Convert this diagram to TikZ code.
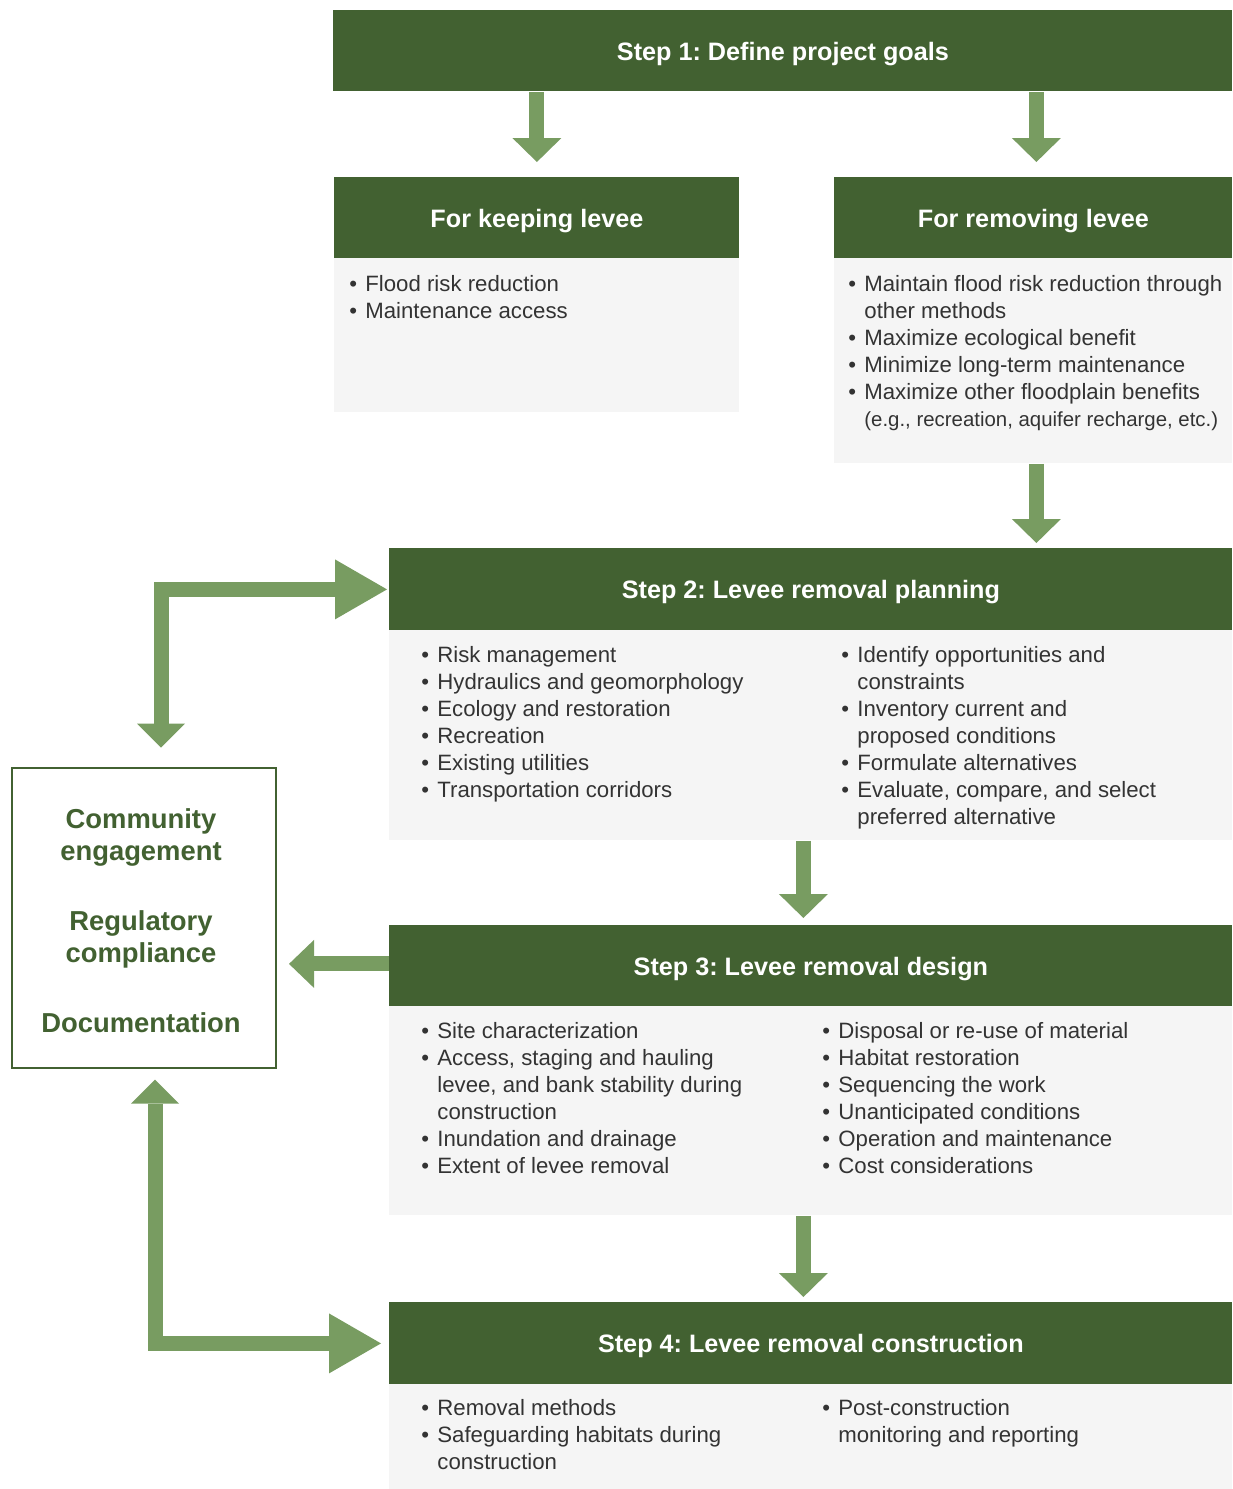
\documentclass[tikz,border=0pt]{standalone}
\usepackage{fontspec}
\setmainfont{Liberation Sans}
\usetikzlibrary{arrows.meta,calc}
\frenchspacing

\definecolor{hdrgreen}{HTML}{426131}
\definecolor{arrgreen}{HTML}{789C61}
\definecolor{bodygray}{HTML}{F5F5F5}
\definecolor{txtgray}{HTML}{333333}

% bulleted list: first column holds the bullet, second the text
\newcommand\blist[1]{{\fontsize{11.1}{13.5}\selectfont
  \begin{tabular}[t]{@{}p{8pt}@{}l@{}}#1\end{tabular}}}
\newcommand\bul{\textbullet&}

\begin{document}
\begin{tikzpicture}[x=0.5pt,y=-0.5pt,
  hdr/.style={fill=hdrgreen,text=white,font=\fontsize{12.6}{15}\selectfont\bfseries,
    inner sep=0pt,text depth=0pt,minimum height=40.5pt,anchor=north west},
  panel/.style={fill=bodygray,inner sep=0pt,anchor=north west},
  lst/.style={anchor=base west,inner sep=0pt,text=txtgray},
  blk/.style={draw=arrgreen,line width=7.5pt,line join=miter},
  tipv/.style={-{Triangle[width=24.5pt,length=12pt,line width=0pt]}},
  tipboth/.style={{Triangle[width=24pt,length=12pt,line width=0pt]}-{Triangle[width=30pt,length=26pt,line width=0pt]}},
]
\useasboundingbox (0,0) rectangle (1232,1489);

% ---- Step 1 and the two goal branches ----
\node[hdr,minimum width=449.5pt] (s1) at (333,10) {Step 1: Define project goals};

\node[hdr,minimum width=202.5pt] (keeph) at (334,177) {For keeping levee};
\node[panel,minimum width=202.5pt,minimum height=77pt] (keepb) at (334,258) {};
\node[lst] (keepl) at (349,291) {\blist{\bul Flood risk reduction\\ \bul Maintenance access}};

\node[hdr,minimum width=199pt] (remh) at (834,177) {For removing levee};
\node[panel,minimum width=199pt,minimum height=102.5pt] (remb) at (834,258) {};
\node[lst] (reml) at (848,291) {\blist{%
  \bul Maintain flood risk reduction through\\
  & other methods\\
  \bul Maximize ecological benefit\\
  \bul Minimize long-term maintenance\\
  \bul Maximize other floodplain benefits\\
  & {\fontsize{10.2}{12}\selectfont (e.g., recreation, aquifer recharge, etc.)}}};

% ---- Step 2 ----
\node[hdr,minimum width=421.5pt,minimum height=41pt] (s2h) at (389,548) {Step 2: Levee removal planning};
\node[panel,minimum width=421.5pt,minimum height=105pt] (s2b) at (389,630) {};
\node[lst] (s2l) at (421,662) {\blist{%
  \bul Risk management\\
  \bul Hydraulics and geomorphology\\
  \bul Ecology and restoration\\
  \bul Recreation\\
  \bul Existing utilities\\
  \bul Transportation corridors}};
\node[lst] (s2r) at (841,662) {\blist{%
  \bul Identify opportunities and\\
  & constraints\\
  \bul Inventory current and\\
  & proposed conditions\\
  \bul Formulate alternatives\\
  \bul Evaluate, compare, and select\\
  & preferred alternative}};

% ---- Step 3 ----
\node[hdr,minimum width=421.5pt] (s3h) at (389,925) {Step 3: Levee removal design};
\node[panel,minimum width=421.5pt,minimum height=104.5pt] (s3b) at (389,1006) {};
\node[lst] (s3l) at (421,1038) {\blist{%
  \bul Site characterization\\
  \bul Access, staging and hauling\\
  & levee, and bank stability during\\
  & construction\\
  \bul Inundation and drainage\\
  \bul Extent of levee removal}};
\node[lst] (s3r) at (822,1038) {\blist{%
  \bul Disposal or re-use of material\\
  \bul Habitat restoration\\
  \bul Sequencing the work\\
  \bul Unanticipated conditions\\
  \bul Operation and maintenance\\
  \bul Cost considerations}};

% ---- Step 4 ----
\node[hdr,minimum width=421.5pt,minimum height=41pt] (s4h) at (389,1302) {Step 4: Levee removal construction};
\node[panel,minimum width=421.5pt,minimum height=52.5pt] (s4b) at (389,1384) {};
\node[lst] (s4l) at (421,1415) {\blist{%
  \bul Removal methods\\
  \bul Safeguarding habitats during\\
  & construction}};
\node[lst] (s4r) at (822,1415) {\blist{%
  \bul Post-construction\\
  & monitoring and reporting}};

% ---- side box ----
\node[draw=hdrgreen,line width=1pt,fill=white,minimum width=132pt,minimum height=150pt,
  inner sep=0pt] (comm) at (144,917.5) {};
\node[align=center,text=hdrgreen,inner sep=0pt,font=\fontsize{13.7}{16}\selectfont\bfseries]
  (commtxt) at (141,921)
  {Community\\engagement\\[19pt]Regulatory\\compliance\\[19pt]Documentation};

% ---- block arrows ----
\draw[blk,tipv] (s1.south -| keeph.north) -- ($(keeph.north)+(0,-15)$);
\draw[blk,tipv] ($(s1.south -| remh.north)+(3,0)$) -- ($(remh.north)+(3,-15)$);
\draw[blk,tipv] ($(remb.south)+(3,0)$) -- ($(s2h.north -| remb.south)+(3,-5)$);
\draw[blk,tipv] ($(s2b.south)+(-7.5,0)$) -- ($(s3h.north)+(-7.5,-7)$);
\draw[blk,tipv] ($(s3b.south)+(-7.5,0)$) -- ($(s4h.north)+(-7.5,-5)$);
\draw[blk,-{Triangle[width=24pt,length=12.5pt,line width=0pt]}]
  ($(s3h.west)+(0,-2)$) -- ($(comm.east |- s3h.west)+(12,-2)$);
\draw[blk,tipboth] ($(comm.north)+(17,-19)$) |- ($(s2h.west)+(-2,0)$);
\draw[blk,tipboth] ($(comm.south)+(11,11)$) |- ($(s4h.west)+(-8,0)$);
\end{tikzpicture}
\end{document}
